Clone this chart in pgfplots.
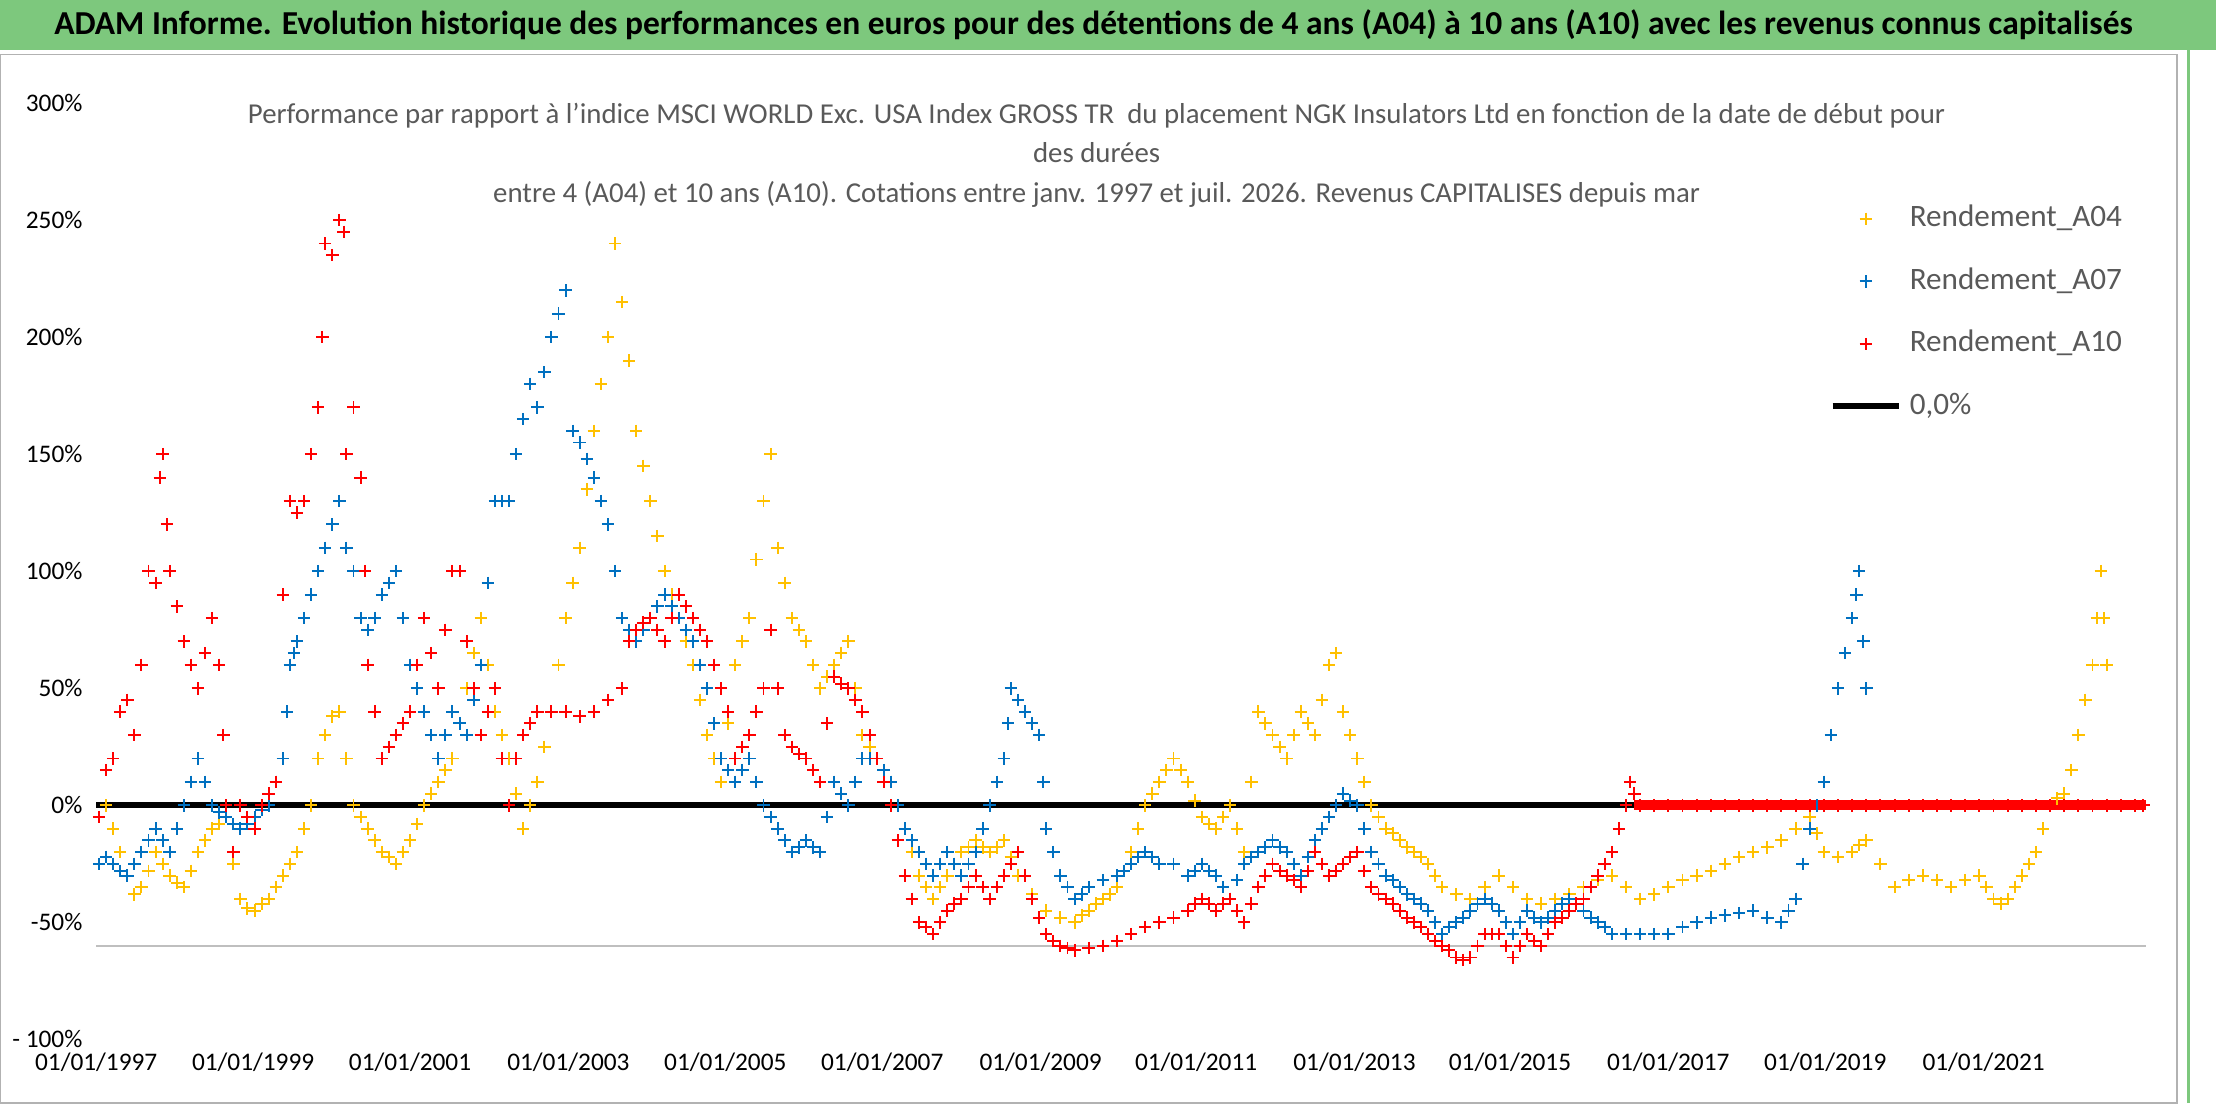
\documentclass[border=0pt]{standalone}
\usepackage{pgfplots}
\pgfplotsset{compat=1.18}
\usepackage{fontspec}
\setmainfont{Carlito}
\definecolor{cA}{RGB}{255,192,0}
\definecolor{cB}{RGB}{0,112,192}
\definecolor{cC}{RGB}{255,0,0}
\definecolor{ban}{RGB}{125,200,125}
\definecolor{tg}{RGB}{89,89,89}
\begin{document}
\begin{tikzpicture}
\useasboundingbox (-0.868,-0.574) rectangle (19.13,9.38);
\fill[ban] (-0.868,8.933) rectangle (19.13,9.38);
\node[font=\fontsize{8.6}{10}\selectfont\bfseries] at (9.0,9.16) {ADAM Informe. Evolution historique des performances en euros pour des détentions de 4 ans (A04) à 10 ans (A10) avec les revenus connus capitalisés};
\draw[gray!60] (-0.868,-0.574) rectangle (18.78,8.89);
\draw[ban,line width=0.8pt] (18.88,-0.574) -- (18.88,8.93);
\begin{axis}[at={(0,0)},anchor=south west,scale only axis,width=18.5cm,height=8.45cm,
 xmin=68,xmax=1518,ymin=-100,ymax=300,axis line style={draw=none},
 xtick={68,179,290,402,513,624,736,846,958,1068,1180,1291,1403},
 xticklabels={01/01/1997,01/01/1999,01/01/2001,01/01/2003,01/01/2005,01/01/2007,01/01/2009,01/01/2011,01/01/2013,01/01/2015,01/01/2017,01/01/2019,01/01/2021},
 ytick={-100,-50,0,50,100,150,200,250,300},
 yticklabels={- 100\%,-50\%,0\%,50\%,100\%,150\%,200\%,250\%,300\%},
 tick style={draw=none},
 tick label style={font=\fontsize{6.5}{8}\selectfont,text=black},
 legend style={at={(0.83,0.925)},anchor=north west,draw=none,fill=white,font=\fontsize{8}{10}\selectfont\color{tg},row sep=5pt,inner xsep=8pt,inner ysep=6pt},
 legend cell align=left,
 title style={font=\fontsize{7.4}{10.2}\selectfont,text=tg,align=center,at={(0.488,0.99)},anchor=north},
 title={Performance par rapport à l'indice MSCI WORLD Exc. USA Index GROSS TR\ \ du placement NGK Insulators Ltd en fonction de la date de début pour\\des durées\\entre 4 (A04) et 10 ans (A10). Cotations entre janv. 1997 et juil. 2026. Revenus CAPITALISES depuis mar},
 ]
\draw[gray!50] (axis cs:0,-60) -- (axis cs:1518,-60);
\addplot[only marks,mark=+,mark size=1.6pt,cA,line width=0.5pt] coordinates {
(70,-5)(75,0)(80,-10)(85,-20)(90,-30)(95,-38)(100,-35)(105,-28)(110,-20)(115,-25)(120,-30)(125,-33)(130,-35)(135,-28)(140,-20)(145,-15)(150,-10)(155,-8)(160,-5)(165,-25)(170,-40)(175,-44)(180,-45)(185,-42)(190,-40)(195,-35)(200,-30)(205,-25)(210,-20)(215,-10)(220,0)(225,20)(230,30)(235,38)(240,40)(245,20)(250,0)(255,-5)(260,-10)(265,-15)(270,-20)(275,-22)(280,-25)(285,-20)(290,-15)(295,-8)(300,0)(305,5)(310,10)(315,15)(320,20)(325,35)(330,50)(335,65)(340,80)(345,60)(350,40)(355,30)(360,20)(365,5)(370,-10)(375,0)(380,10)(385,25)(390,40)(395,60)(400,80)(405,95)(410,110)(415,135)(420,160)(425,180)(430,200)(435,240)(440,215)(445,190)(450,160)(455,145)(460,130)(465,115)(470,100)(475,90)(480,80)(485,70)(490,60)(495,45)(500,30)(505,20)(510,10)(515,35)(520,60)(525,70)(530,80)(535,105)(540,130)(545,150)(550,110)(555,95)(560,80)(565,75)(570,70)(575,60)(580,50)(585,55)(590,60)(595,65)(600,70)(605,50)(610,30)(615,25)(620,20)(625,15)(630,10)(635,0)(640,-10)(645,-20)(650,-30)(655,-35)(660,-40)(665,-35)(670,-30)(675,-25)(680,-20)(685,-18)(690,-15)(695,-18)(700,-20)(705,-18)(710,-15)(715,-22)(720,-30)(730,-38)(740,-45)(750,-48)(760,-50)(765,-47)(770,-45)(775,-42)(780,-40)(785,-38)(790,-35)(795,-28)(800,-20)(805,-10)(810,0)(815,5)(820,10)(825,15)(830,20)(835,15)(840,10)(845,2)(850,-5)(855,-8)(860,-10)(865,-5)(870,0)(875,-10)(880,-20)(885,10)(890,40)(895,35)(900,30)(905,25)(910,20)(915,30)(920,40)(925,35)(930,30)(935,45)(940,60)(945,65)(950,40)(955,30)(960,20)(965,10)(970,0)(975,-5)(980,-10)(985,-12)(990,-15)(995,-18)(1000,-20)(1005,-22)(1010,-25)(1015,-30)(1020,-35)(1030,-38)(1040,-40)(1050,-35)(1060,-30)(1070,-35)(1080,-40)(1090,-42)(1100,-40)(1110,-38)(1120,-35)(1130,-32)(1140,-30)(1150,-35)(1160,-40)(1170,-38)(1180,-35)(1190,-32)(1200,-30)(1210,-28)(1220,-25)(1230,-22)(1240,-20)(1250,-18)(1260,-15)(1270,-10)(1280,-5)(1285,-12)(1290,-20)(1300,-22)(1310,-20)(1315,-17)(1320,-15)(1330,-25)(1340,-35)(1350,-32)(1360,-30)(1370,-32)(1380,-35)(1390,-32)(1400,-30)(1405,-35)(1410,-40)(1415,-42)(1420,-40)(1425,-35)(1430,-30)(1435,-25)(1440,-20)(1445,-10)(1450,0)(1455,3)(1460,5)(1465,15)(1470,30)(1475,45)(1480,60)(1483,80)(1486,100)(1488,80)(1490,60)};
\addplot[only marks,mark=+,mark size=1.6pt,cB,line width=0.5pt] coordinates {
(70,-25)(75,-22)(80,-25)(85,-28)(90,-30)(95,-25)(100,-20)(105,-15)(110,-10)(115,-15)(120,-20)(125,-10)(130,0)(135,10)(140,20)(145,10)(150,0)(155,-3)(160,-5)(165,-8)(170,-10)(175,-8)(180,-5)(185,-2)(190,0)(195,10)(200,20)(203,40)(205,60)(208,65)(210,70)(215,80)(220,90)(225,100)(230,110)(235,120)(240,130)(245,110)(250,100)(255,80)(260,75)(265,80)(270,90)(275,95)(280,100)(285,80)(290,60)(295,50)(300,40)(305,30)(310,20)(315,30)(320,40)(325,35)(330,30)(335,45)(340,60)(345,95)(350,130)(355,130)(360,130)(365,150)(370,165)(375,180)(380,170)(385,185)(390,200)(395,210)(400,220)(405,160)(410,155)(415,148)(420,140)(425,130)(430,120)(435,100)(440,80)(445,75)(450,70)(455,75)(460,80)(465,85)(470,90)(475,85)(480,80)(485,75)(490,70)(495,60)(500,50)(505,35)(510,20)(515,15)(520,10)(525,15)(530,20)(535,10)(540,0)(545,-5)(550,-10)(555,-15)(560,-20)(565,-18)(570,-15)(575,-18)(580,-20)(585,-5)(590,10)(595,5)(600,0)(605,10)(610,20)(615,20)(620,20)(625,15)(630,10)(635,0)(640,-10)(645,-15)(650,-20)(655,-25)(660,-30)(665,-25)(670,-20)(675,-25)(680,-30)(685,-25)(690,-20)(695,-10)(700,0)(705,10)(710,20)(713,35)(715,50)(720,45)(725,40)(730,35)(735,30)(738,10)(740,-10)(745,-20)(750,-30)(755,-35)(760,-40)(765,-38)(770,-35)(780,-32)(790,-30)(795,-28)(800,-25)(805,-22)(810,-20)(815,-22)(820,-25)(830,-25)(840,-30)(845,-28)(850,-25)(855,-28)(860,-30)(865,-35)(870,-40)(875,-32)(880,-25)(885,-22)(890,-20)(895,-18)(900,-15)(905,-18)(910,-20)(915,-25)(920,-30)(925,-22)(930,-15)(935,-10)(940,-5)(945,0)(950,5)(955,2)(960,0)(965,-10)(970,-20)(975,-25)(980,-30)(985,-32)(990,-35)(995,-38)(1000,-40)(1005,-42)(1010,-45)(1015,-50)(1020,-55)(1025,-52)(1030,-50)(1035,-48)(1040,-45)(1045,-42)(1050,-40)(1055,-42)(1060,-45)(1065,-50)(1070,-55)(1075,-50)(1080,-45)(1085,-48)(1090,-50)(1095,-48)(1100,-45)(1105,-42)(1110,-40)(1115,-42)(1120,-45)(1125,-48)(1130,-50)(1135,-52)(1140,-55)(1150,-55)(1160,-55)(1170,-55)(1180,-55)(1190,-52)(1200,-50)(1210,-48)(1220,-47)(1230,-46)(1240,-45)(1250,-48)(1260,-50)(1265,-45)(1270,-40)(1275,-25)(1280,-10)(1285,0)(1290,10)(1295,30)(1300,50)(1305,65)(1310,80)(1313,90)(1315,100)(1318,70)(1320,50)};
\addplot[only marks,mark=+,mark size=1.6pt,cC,line width=0.5pt] coordinates {
(70,-5)(75,15)(80,20)(85,40)(90,45)(95,30)(100,60)(105,100)(110,95)(113,140)(115,150)(118,120)(120,100)(125,85)(130,70)(135,60)(140,50)(145,65)(150,80)(155,60)(158,30)(160,0)(165,-20)(170,0)(175,-5)(180,-10)(185,0)(190,5)(195,10)(200,90)(205,130)(210,125)(215,130)(220,150)(225,170)(228,200)(230,240)(235,235)(240,250)(243,245)(245,150)(250,170)(255,140)(258,100)(260,60)(265,40)(270,20)(275,25)(280,30)(285,35)(290,40)(295,60)(300,80)(305,65)(310,50)(315,75)(320,100)(325,100)(330,70)(335,50)(340,30)(345,40)(350,50)(355,20)(360,0)(365,20)(370,30)(375,35)(380,40)(390,40)(400,40)(410,38)(420,40)(430,45)(440,50)(445,70)(450,75)(455,78)(460,80)(465,75)(470,70)(475,80)(480,90)(485,85)(490,80)(495,75)(500,70)(505,60)(510,50)(515,40)(520,20)(525,25)(530,30)(535,40)(540,50)(545,75)(550,50)(555,30)(560,25)(565,22)(570,20)(575,15)(580,10)(585,35)(590,55)(595,52)(600,50)(605,45)(610,40)(615,30)(620,20)(625,10)(630,0)(635,-15)(640,-30)(645,-40)(650,-50)(655,-52)(660,-55)(665,-50)(670,-45)(675,-42)(680,-40)(685,-35)(690,-30)(695,-35)(700,-40)(705,-35)(710,-30)(715,-25)(720,-20)(725,-30)(730,-40)(735,-48)(740,-55)(745,-58)(750,-60)(755,-61)(760,-62)(770,-61)(780,-60)(790,-58)(800,-55)(810,-52)(820,-50)(830,-48)(840,-45)(845,-42)(850,-40)(855,-42)(860,-45)(865,-42)(870,-40)(875,-45)(880,-50)(885,-42)(890,-35)(895,-30)(900,-25)(905,-28)(910,-30)(915,-32)(920,-35)(925,-28)(930,-20)(935,-25)(940,-30)(945,-28)(950,-25)(955,-22)(960,-20)(965,-28)(970,-35)(975,-38)(980,-40)(985,-42)(990,-45)(995,-48)(1000,-50)(1005,-52)(1010,-55)(1015,-58)(1020,-60)(1025,-62)(1030,-65)(1035,-66)(1040,-65)(1045,-60)(1050,-55)(1055,-55)(1060,-55)(1065,-60)(1070,-65)(1075,-60)(1080,-55)(1085,-58)(1090,-60)(1095,-55)(1100,-50)(1105,-48)(1110,-45)(1115,-42)(1120,-40)(1125,-35)(1130,-30)(1135,-25)(1140,-20)(1145,-10)(1150,0)(1153,10)(1156,5)
(1160,0)(1170,0)(1180,0)(1190,0)(1200,0)(1210,0)(1220,0)(1230,0)(1240,0)(1250,0)(1260,0)(1270,0)(1280,0)(1290,0)(1300,0)(1310,0)(1320,0)(1330,0)(1340,0)(1350,0)(1360,0)(1370,0)(1380,0)(1390,0)(1400,0)(1410,0)(1420,0)(1430,0)(1440,0)(1450,0)(1460,0)(1470,0)(1480,0)(1490,0)(1500,0)(1510,0)(1516,0)};
\addplot[black,line width=1.5pt] coordinates {(68,0)(1518,0)};
\addplot[cC,line width=2.5pt,forget plot] coordinates {(1156,0)(1518,0)};
\legend{Rendement\_A04,Rendement\_A07,Rendement\_A10,{0,0\%}}
\end{axis}
\end{tikzpicture}
\end{document}
